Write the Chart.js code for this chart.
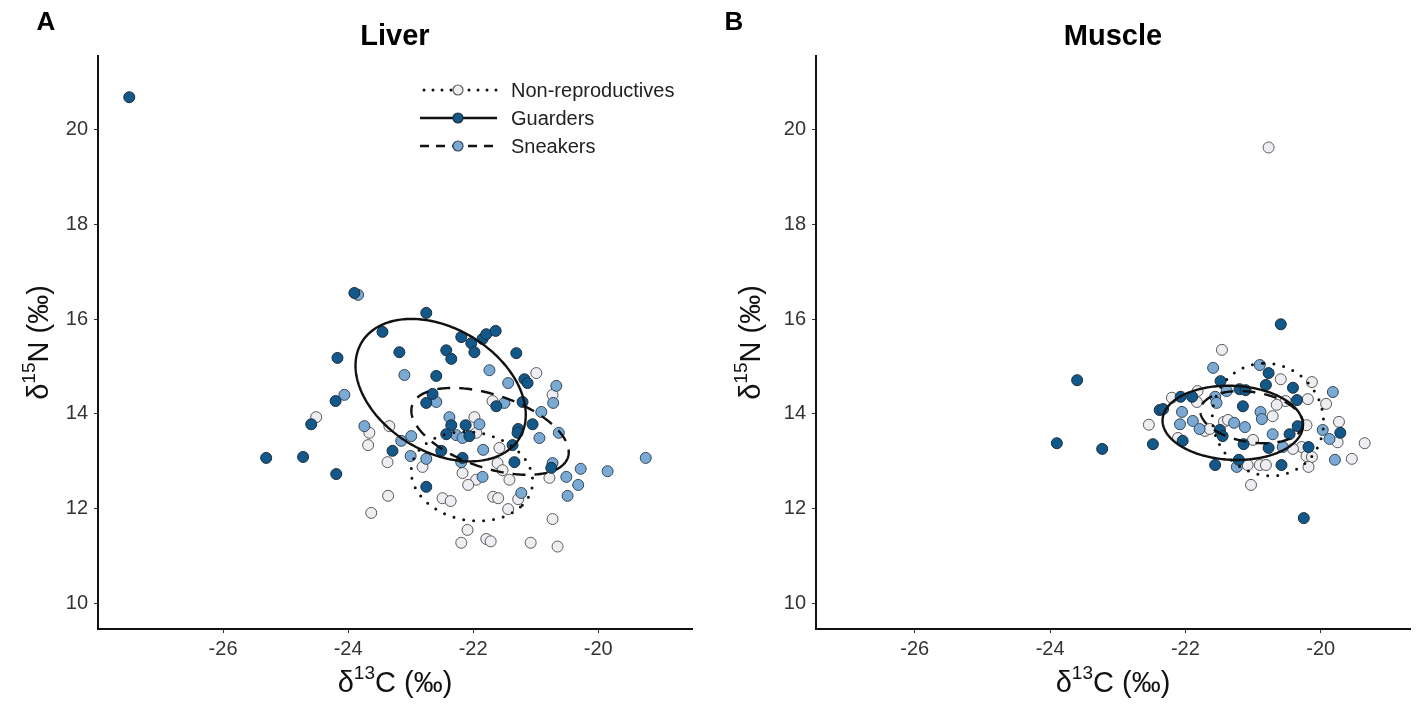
<!DOCTYPE html>
<html>
<head>
<meta charset="utf-8">
<script src="https://cdn.jsdelivr.net/npm/chart.js@4.4.1/dist/chart.umd.min.js"></script>
<style>
  body { margin: 0; background: #fff; }
  #wrap { position: relative; width: 1418px; height: 706px; }
  canvas { position: absolute; top: 0; }
</style>
</head>
<body>
<div id="wrap">
  <canvas id="liver" width="709" height="706" style="left:0"></canvas>
  <canvas id="muscle" width="709" height="706" style="left:709px"></canvas>
</div>
<script>
// groupes et textes
const groups = ["Non-reproductives", "Guarders", "Sneakers"];
const panelLetters = ["A", "B"];
const panelTitles = ["Liver", "Muscle"];
const xTitleParts = ["δ", "13", "C (‰)"];
const yTitleParts = ["δ", "15", "N (‰)"];
const xTicks = [-26, -24, -22, -20];
const yTicks = [10, 12, 14, 16, 18, 20];

// foie : [d13C, d15N]
const liverNonRepro = [
  [-20.99,14.86],[-20.73,14.40],[-21.69,14.27],[-21.98,13.93],[-24.51,13.93],[-23.34,13.74],
  [-23.66,13.60],[-23.68,13.34],[-21.95,13.60],[-23.37,12.98],[-22.81,12.88],[-21.58,13.28],
  [-21.61,12.96],[-21.53,12.81],[-22.17,12.75],[-21.95,12.61],[-22.08,12.50],[-21.42,12.61],
  [-20.78,12.65],[-23.36,12.27],[-23.63,11.91],[-22.49,12.22],[-22.36,12.16],[-21.68,12.25],
  [-21.60,12.22],[-21.28,12.20],[-21.44,11.99],[-20.73,11.78],[-22.09,11.55],[-22.19,11.28],
  [-21.79,11.36],[-21.72,11.31],[-21.08,11.28],[-20.65,11.20]
];
const liverGuarders = [
  [-27.50,20.68],[-23.90,16.55],[-22.75,16.13],[-23.45,15.73],[-22.19,15.62],[-22.03,15.49],
  [-21.85,15.58],[-21.79,15.68],[-21.64,15.75],[-23.18,15.30],[-21.98,15.30],[-22.43,15.34],
  [-22.35,15.16],[-21.31,15.28],[-24.17,15.18],[-22.59,14.80],[-21.18,14.73],[-21.13,14.65],
  [-24.20,14.27],[-22.65,14.42],[-22.75,14.23],[-21.63,14.16],[-21.21,14.25],[-24.59,13.78],
  [-22.35,13.76],[-22.12,13.76],[-21.05,13.78],[-21.28,13.68],[-22.43,13.57],[-22.06,13.53],
  [-21.29,13.60],[-21.37,13.34],[-23.29,13.22],[-22.51,13.22],[-22.17,13.07],[-21.34,12.98],
  [-20.75,12.86],[-25.31,13.07],[-24.72,13.09],[-24.19,12.73],[-22.75,12.46]
];
const liverSneakers = [
  [-23.84,16.51],[-23.10,14.82],[-21.74,14.92],[-21.44,14.65],[-24.06,14.40],[-22.59,14.25],
  [-21.50,14.23],[-20.67,14.59],[-20.72,14.23],[-20.91,14.04],[-22.38,13.93],[-21.90,13.78],
  [-23.74,13.74],[-22.99,13.53],[-23.15,13.43],[-23.00,13.11],[-22.75,13.05],[-22.27,13.55],
  [-22.17,13.49],[-20.94,13.49],[-20.63,13.60],[-21.84,13.24],[-22.19,12.98],[-20.73,12.96],
  [-21.85,12.67],[-20.51,12.67],[-20.28,12.84],[-19.85,12.79],[-19.24,13.07],[-20.32,12.50],
  [-20.49,12.27],[-21.23,12.33]
];

// muscle
const muscleNonRepro = [
  [-21.46,15.35],[-20.77,19.62],[-22.54,13.77],[-22.20,14.34],[-22.11,13.49],[-21.82,14.48],
  [-21.83,14.25],[-21.71,13.64],[-21.64,13.68],[-21.43,13.83],[-21.37,13.87],[-21.00,13.45],
  [-21.08,12.92],[-20.90,12.92],[-20.81,12.92],[-21.03,12.50],[-20.59,14.73],[-20.13,14.67],
  [-20.19,14.31],[-20.52,14.27],[-20.65,14.19],[-19.92,14.21],[-20.71,13.95],[-19.73,13.83],
  [-20.21,13.76],[-19.75,13.40],[-19.35,13.38],[-20.28,13.30],[-20.41,13.26],[-20.21,13.11],
  [-20.13,13.09],[-19.54,13.05],[-20.18,12.88]
];
const muscleGuarders = [
  [-20.59,15.89],[-23.60,14.71],[-23.90,13.38],[-23.23,13.26],[-22.48,13.36],[-22.38,14.08],
  [-22.33,14.10],[-22.04,13.43],[-22.07,14.36],[-21.90,14.36],[-21.48,14.69],[-21.20,14.52],
  [-21.11,14.50],[-21.15,14.16],[-21.49,13.66],[-21.45,13.53],[-21.14,13.36],[-21.21,13.03],
  [-21.56,12.92],[-20.77,14.86],[-20.81,14.61],[-20.41,14.55],[-20.35,14.29],[-20.34,13.74],
  [-20.46,13.57],[-20.77,13.28],[-20.18,13.30],[-19.71,13.60],[-20.58,12.92],[-20.25,11.80]
];
const muscleSneakers = [
  [-21.59,14.97],[-22.05,14.04],[-22.08,13.78],[-21.89,13.85],[-21.79,13.68],[-21.56,14.36],
  [-21.54,14.23],[-21.39,14.48],[-21.28,13.81],[-21.12,13.72],[-21.24,12.88],[-20.90,15.03],
  [-20.89,14.04],[-20.87,13.89],[-20.71,13.57],[-20.56,13.30],[-19.82,14.46],[-19.97,13.66],
  [-19.87,13.47],[-19.79,13.03]
];

// ellipses standard (ordre = groups) : centre, demi-axes, angle (deg)
const liverEllipseCenter = [[-22.02,12.68],[-22.52,14.50],[-21.73,13.63]];
const liverEllipseAxes   = [[1.01,0.90],[1.67,1.15],[1.37,0.74]];
const liverEllipseAngle  = [-37, -53, -28];
const muscleEllipseCenter = [[-20.78,13.88],[-21.30,13.81],[-21.02,13.93]];
const muscleEllipseAxes   = [[1.19,0.82],[1.04,0.78],[0.78,0.52]];
const muscleEllipseAngle  = [94, -6, -18];

const FONT = '"Liberation Sans", Arial, Helvetica, sans-serif';
const fills = ["#eeeef2", "#12588a", "#7aaad3"];
const borders = ["#5a5a5a", "#1d2d3a", "#34495c"];
const dashes = [[0, 10], [], [13, 9]];
const legendDashes = [[0, 9], [], [9, 7]];

const el = (id) => document.getElementById(id);

function toPts(arr) {
  return arr.map(p => ({ x: p[0], y: p[1] }));
}

function setLine(ctx, i, pattern) {
  ctx.strokeStyle = "#111";
  ctx.lineWidth = i === 0 ? 3 : 2.4;
  ctx.lineCap = i === 0 ? "round" : "butt";
  ctx.setLineDash(pattern[i]);
}

function drawIso(ctx, parts, cx, cy, rot) {
  const big = "29px " + FONT, small = "19px " + FONT;
  ctx.save();
  ctx.translate(cx, cy);
  ctx.rotate(rot);
  ctx.fillStyle = "#111";
  ctx.textBaseline = "middle";
  ctx.textAlign = "left";
  ctx.font = big;
  const w1 = ctx.measureText(parts[0]).width, w3 = ctx.measureText(parts[2]).width;
  ctx.font = small;
  const w2 = ctx.measureText(parts[1]).width;
  let x = -(w1 + w2 + w3) / 2;
  ctx.font = big; ctx.fillText(parts[0], x, 0); x += w1;
  ctx.font = small; ctx.fillText(parts[1], x, -10); x += w2;
  ctx.font = big; ctx.fillText(parts[2], x, 0);
  ctx.restore();
}

function panelPlugin(idx, centers, axes, angles, letterX, yTitleX, withLegend) {
  return {
    id: "panel" + idx,
    afterDatasetsDraw(chart) {
      const ctx = chart.ctx, xs = chart.scales.x, ys = chart.scales.y;
      // ellipses
      for (let i = 0; i < groups.length; i++) {
        const [cx, cy] = centers[i], [a, b] = axes[i];
        const th = angles[i] * Math.PI / 180;
        ctx.save();
        setLine(ctx, i, dashes);
        ctx.beginPath();
        for (let k = 0; k <= 240; k++) {
          const t = k / 240 * 2 * Math.PI;
          const dx = a * Math.cos(t), dy = b * Math.sin(t);
          const px = xs.getPixelForValue(cx + dx * Math.cos(th) - dy * Math.sin(th));
          const py = ys.getPixelForValue(cy + dx * Math.sin(th) + dy * Math.cos(th));
          if (k === 0) ctx.moveTo(px, py); else ctx.lineTo(px, py);
        }
        ctx.stroke();
        ctx.restore();
      }
    },
    afterDraw(chart) {
      const ctx = chart.ctx, area = chart.chartArea;
      const midX = (area.left + area.right) / 2;
      ctx.save();
      ctx.fillStyle = "#000";
      ctx.textBaseline = "middle";
      ctx.textAlign = "center";
      ctx.font = "bold 26px " + FONT;
      ctx.fillText(panelLetters[idx], letterX, 23);
      ctx.font = "bold 29px " + FONT;
      ctx.fillText(panelTitles[idx], midX, 37);
      ctx.restore();
      drawIso(ctx, xTitleParts, midX, 684, 0);
      drawIso(ctx, yTitleParts, yTitleX, (area.top + area.bottom) / 2, -Math.PI / 2);

      if (withLegend) {
        const rows = [90, 118, 146];
        for (let i = 0; i < groups.length; i++) {
          const y = rows[i];
          ctx.save();
          setLine(ctx, i, legendDashes);
          ctx.beginPath();
          ctx.moveTo(i === 0 ? 424 : 420, y);
          ctx.lineTo(497, y);
          ctx.stroke();
          ctx.setLineDash([]);
          ctx.beginPath();
          ctx.arc(458, y, 5, 0, 2 * Math.PI);
          ctx.fillStyle = fills[i];
          ctx.fill();
          ctx.lineWidth = 1.2;
          ctx.strokeStyle = borders[i];
          ctx.stroke();
          ctx.fillStyle = "#222";
          ctx.font = "20px " + FONT;
          ctx.textAlign = "left";
          ctx.textBaseline = "middle";
          ctx.fillText(groups[i], 511, y + 1);
          ctx.restore();
        }
      }
    }
  };
}

function buildPanel(canvasId, idx, nonRepro, guarders, sneakers, xMin, xMax, yAxisW, padRight,
                    centers, axes, angles, letterX, yTitleX, withLegend) {
  const mk = (label, data, g) => ({
    label, data: toPts(data),
    backgroundColor: fills[g], borderColor: borders[g],
    borderWidth: 1, pointRadius: 5.5, pointHoverRadius: 5.5,
  });
  return new Chart(el(canvasId).getContext("2d"), {
    type: "scatter",
    data: {
      datasets: [
        mk(groups[1], guarders, 1),
        mk(groups[2], sneakers, 2),
        mk(groups[0], nonRepro, 0),
      ],
    },
    options: {
      responsive: false,
      animation: false,
      devicePixelRatio: 1,
      events: [],
      layout: { padding: { left: 0, right: padRight, top: 56, bottom: 0 } },
      plugins: { legend: { display: false }, tooltip: { enabled: false }, title: { display: false } },
      scales: {
        x: {
          type: "linear", min: xMin, max: xMax,
          afterBuildTicks: (s) => { s.ticks = xTicks.map(v => ({ value: v })); },
          afterFit: (s) => { s.height = 77; },
          grid: { display: true, drawOnChartArea: false, drawTicks: true, tickLength: 4, color: "#333" },
          border: { display: true, color: "#111", width: 2 },
          ticks: { color: "#333", font: { family: FONT, size: 20 }, padding: 4, maxRotation: 0 },
        },
        y: {
          type: "linear", min: 9.46, max: 21.55,
          afterBuildTicks: (s) => { s.ticks = yTicks.map(v => ({ value: v })); },
          afterFit: (s) => { s.width = yAxisW; },
          grid: { display: true, drawOnChartArea: false, drawTicks: true, tickLength: 4, color: "#333" },
          border: { display: true, color: "#111", width: 2 },
          ticks: { color: "#333", font: { family: FONT, size: 20 }, padding: 6 },
        },
      },
    },
    plugins: [panelPlugin(idx, centers, axes, angles, letterX, yTitleX, withLegend)],
  });
}

buildPanel("liver", 0, liverNonRepro, liverGuarders, liverSneakers, -28.0, -18.5, 98, 17,
           liverEllipseCenter, liverEllipseAxes, liverEllipseAngle, 46, 40, true);
buildPanel("muscle", 1, muscleNonRepro, muscleGuarders, muscleSneakers, -27.46, -18.68, 107, 8,
           muscleEllipseCenter, muscleEllipseAxes, muscleEllipseAngle, 25, 43, false);
</script>
</body>
</html>
